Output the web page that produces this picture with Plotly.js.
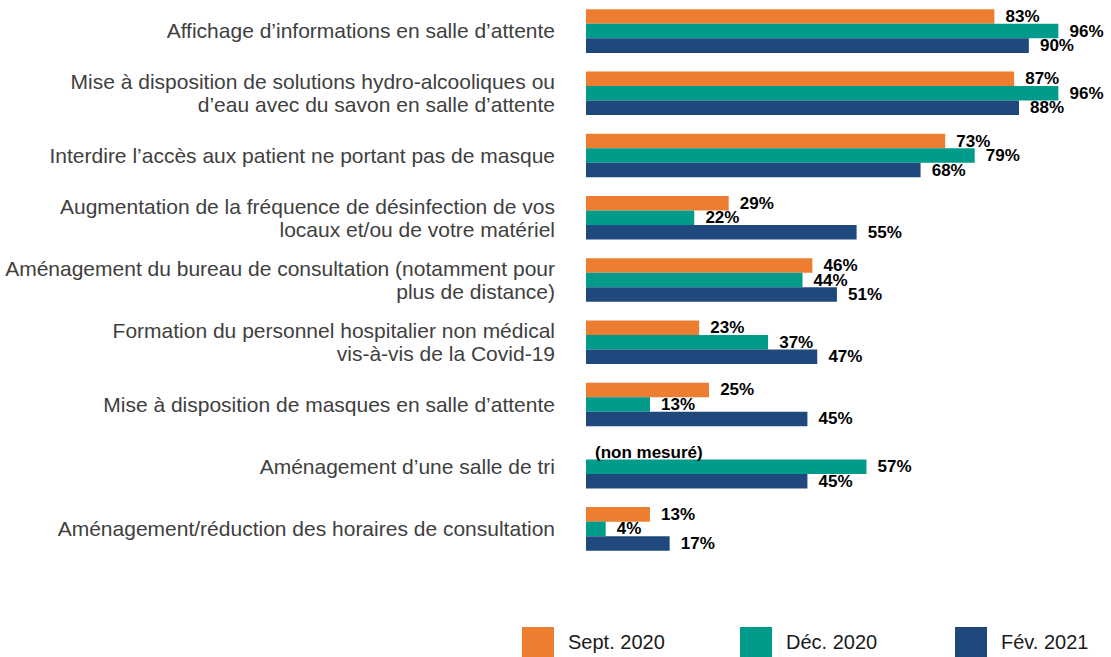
<!DOCTYPE html>
<html>
<head>
<meta charset="utf-8">
<script src="https://cdn.plot.ly/plotly-3.0.1.min.js"></script>
<style>html,body{margin:0;padding:0;background:#fff;}#chart{width:1111px;height:657px;}</style>
</head>
<body>
<div id="chart"></div>
<script>
const categories = [
  "Affichage d’informations en salle d’attente",
  "Mise à disposition de solutions hydro-alcooliques ou<br>d’eau avec du savon en salle d’attente",
  "Interdire l’accès aux patient ne portant pas de masque",
  "Augmentation de la fréquence de désinfection de vos<br>locaux et/ou de votre matériel",
  "Aménagement du bureau de consultation (notamment pour<br>plus de distance)",
  "Formation du personnel hospitalier non médical<br>vis-à-vis de la Covid-19",
  "Mise à disposition de masques en salle d’attente",
  "Aménagement d’une salle de tri",
  "Aménagement/réduction des horaires de consultation"
];
const seriesNames = ["Sept. 2020", "Déc. 2020", "Fév. 2021"];
const sept2020 = [83, 87, 73, 29, 46, 23, 25, null, 13];
const dec2020  = [96, 96, 79, 22, 44, 37, 13, 57, 4];
const fev2021  = [90, 88, 68, 55, 51, 47, 45, 45, 17];
const notMeasuredLabel = "(non mesuré)";
const colors = ["#ED7D31", "#009B8A", "#1F497D"];

const W = 1111, H = 657, ML = 586, MR = 0, MT = 0, MB = 97;
const plotW = W - ML - MR, plotH = H - MT - MB;
const px = x => (x - ML) / plotW;
const py = y => (plotH + MT - y) / plotH;

const allSeries = [sept2020, dec2020, fev2021];
const labelFont = {family: "Liberation Sans, Arial, sans-serif", size: 17, color: "#000000", weight: 700};
const PAD = "\u00A0\u2009";

const traces = allSeries.map((vals, i) => ({
  type: "bar",
  orientation: "h",
  name: seriesNames[i],
  y: categories,
  x: vals,
  marker: {color: colors[i], line: {width: 0}},
  text: vals.map(v => v == null ? "" : PAD + v + "%"),
  textposition: "outside",
  textfont: labelFont,
  constraintext: "none",
  cliponaxis: false,
  hoverinfo: "skip"
}));

const missingIdx = sept2020.findIndex(v => v == null);

const shapes = [];
const annotations = [];
const legendX = [522, 740, 955];
seriesNames.forEach((n, i) => {
  shapes.push({type: "rect", xref: "paper", yref: "paper",
    x0: px(legendX[i]), x1: px(legendX[i] + 32), y0: py(627), y1: py(659),
    fillcolor: colors[i], line: {width: 0}});
  annotations.push({xref: "paper", yref: "paper", x: px(legendX[i] + 44), y: py(642),
    xanchor: "left", yanchor: "middle", showarrow: false, text: n,
    font: {family: "Liberation Sans, Arial, sans-serif", size: 20, color: "#1a1a1a"}});
});
if (missingIdx >= 0) {
  annotations.push({xref: "x", yref: "y", x: 0, y: categories[missingIdx],
    xanchor: "left", yanchor: "middle", xshift: 7, yshift: 14.5, showarrow: false,
    text: notMeasuredLabel, font: labelFont});
}

const layout = {
  width: W, height: H,
  margin: {l: ML, r: MR, t: MT, b: MB, pad: 0},
  paper_bgcolor: "#ffffff", plot_bgcolor: "#ffffff",
  barmode: "group", bargap: 0.3, bargroupgap: 0,
  showlegend: false,
  xaxis: {range: [0, 106.7], showgrid: false, zeroline: false, showticklabels: false, ticks: "", showline: false, fixedrange: true},
  yaxis: {autorange: "reversed", showgrid: false, zeroline: false, showline: false, ticks: "",
    ticklabelstandoff: 30,
    tickfont: {family: "Liberation Sans, Arial, sans-serif", size: 21, color: "#404040"}},
  shapes: shapes,
  annotations: annotations,
  font: {family: "Liberation Sans, Arial, sans-serif"}
};

Plotly.newPlot("chart", traces, layout, {staticPlot: true, displayModeBar: false}).then(gd => {
  // tighten line spacing of two-line category labels
  gd.querySelectorAll(".ytick text").forEach(t => {
    const lines = t.querySelectorAll("tspan.line");
    if (lines.length > 1) {
      let n = 0;
      lines.forEach((ln, k) => { if (k > 0) { ln.setAttribute("dy", "1.1em"); n++; } });
      const shift = n * 0.2 * 21 / 2;
      const tr = t.getAttribute("transform") || "";
      t.setAttribute("transform", (tr + " translate(0," + shift.toFixed(2) + ")").trim());
    }
  });
});
</script>
</body>
</html>
